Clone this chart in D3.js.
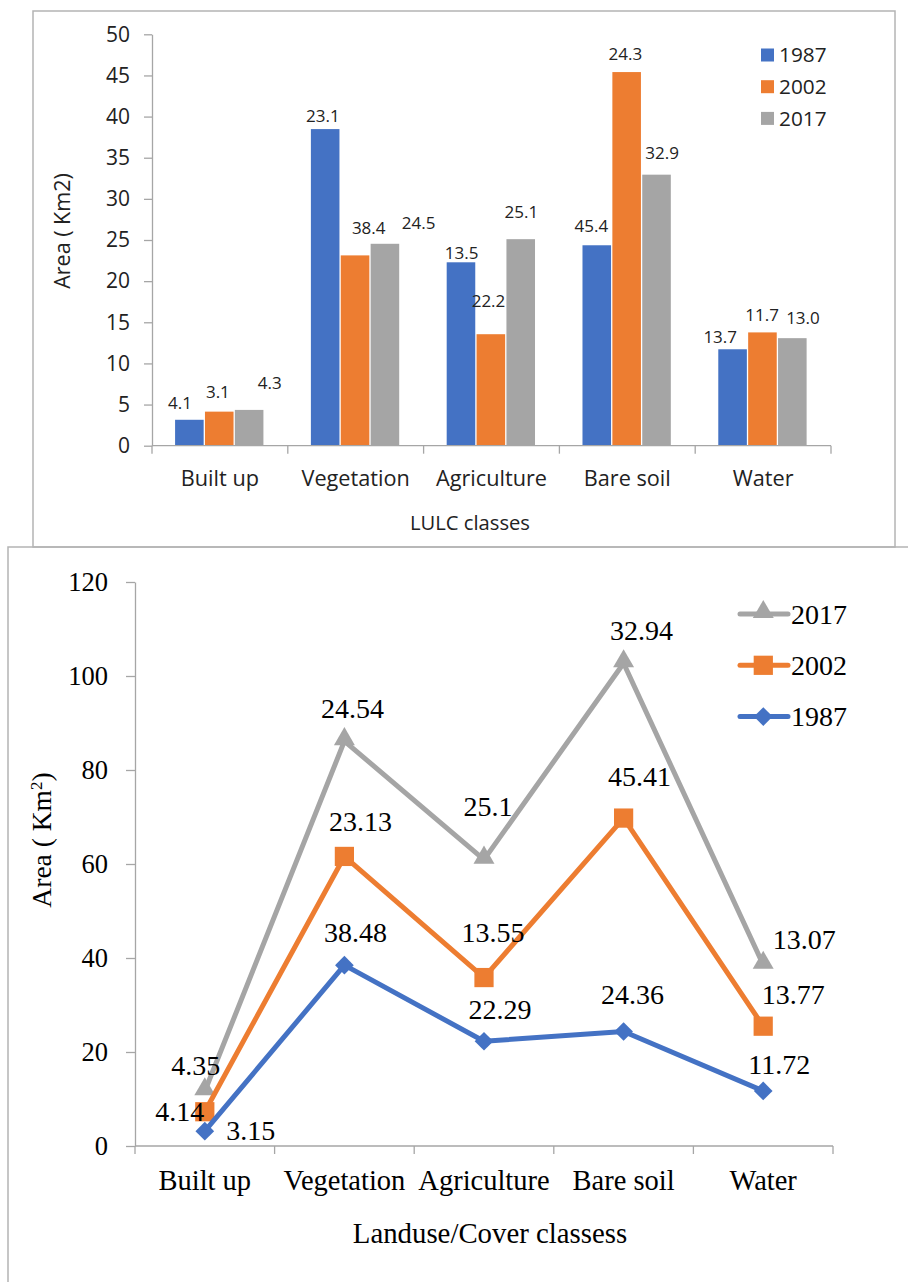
<!DOCTYPE html>
<html>
<head>
<meta charset="utf-8">
<script src="https://cdn.jsdelivr.net/npm/d3@7"></script>
<style>
  body { margin: 0; background: #fff; }
  svg { display: block; }
</style>
</head>
<body>
<script>
// land cover areas (km2) per class and year
const categories = ["Built up", "Vegetation", "Agriculture", "Bare soil", "Water"];
const years = ["1987", "2002", "2017"];
const area1987 = [3.15, 38.48, 22.29, 24.36, 11.72];
const area2002 = [4.14, 23.13, 13.55, 45.41, 13.77];
const area2017 = [4.35, 24.54, 25.1, 32.94, 13.07];

// data labels printed on the bar chart (as they appear in the figure)
const barText1987 = ["4.1", "23.1", "13.5", "45.4", "13.7"];
const barText2002 = ["3.1", "38.4", "22.2", "24.3", "11.7"];
const barText2017 = ["4.3", "24.5", "25.1", "32.9", "13.0"];

const barTicks = [0, 5, 10, 15, 20, 25, 30, 35, 40, 45, 50];
const lineTicks = [0, 20, 40, 60, 80, 100, 120];

const colors = { "1987": "#4472c4", "2002": "#ed7d31", "2017": "#a5a5a5" };

// label nudges (px) relative to the top of each bar / each marker
const barNudge = {
  "1987": [[-10, -17], [-3, -13], [0, -9], [-6, -19], [-13, -12]],
  "2002": [[-2, -20], [13, -28], [-3, -33], [-2, -18], [-1, -18]],
  "2017": [[20, -27], [33, -21], [0, -27], [5, -22], [10, -20]]
};
const lineNudge = {
  "1987": [[46, -1], [11, -33], [16, -32], [9, -37], [16, -26]],
  "2002": [[-25, 0], [16, -35], [9, -45], [16, -42], [30, -32]],
  "2017": [[-9, -26], [8, -33], [4, -53], [18, -33], [41, -25]]
};

const values = { "1987": area1987, "2002": area2002, "2017": area2017 };
const barText = { "1987": barText1987, "2002": barText2002, "2017": barText2017 };

const svg = d3.select("body").append("svg")
  .attr("width", 908)
  .attr("height", 1282);

const axisGray = "#a6a6a6";

// ---------- top: grouped bar chart ----------
const sans = "'Open Sans', sans-serif";
const textCol = "#222";
const barChart = svg.append("g");

barChart.append("rect")
  .attr("x", 33).attr("y", 11)
  .attr("width", 862).attr("height", 536)
  .attr("fill", "none").attr("stroke", "#b4b4b4").attr("stroke-width", 1.5);

const bx0 = d3.scaleBand().domain(categories).range([152, 831]);
const bx1 = d3.scaleBand().domain(years)
  .range([bx0.bandwidth() * 0.17, bx0.bandwidth() * 0.83]);
const by = d3.scaleLinear().domain([0, 50]).range([445.7, 34.3]);

const yAxisTop = barChart.append("g")
  .attr("transform", "translate(152,0)")
  .call(d3.axisLeft(by).tickValues(barTicks).tickSize(8).tickSizeOuter(0).tickPadding(14));
yAxisTop.selectAll("path, line").attr("stroke", axisGray).attr("stroke-width", 1.3);
yAxisTop.selectAll("text")
  .attr("font-family", sans).attr("font-size", 21).attr("fill", textCol);

// bars
years.forEach(yr => {
  barChart.append("g")
    .selectAll("rect")
    .data(categories)
    .enter().append("rect")
    .attr("x", c => bx0(c) + bx1(yr))
    .attr("y", (c, i) => by(values[yr][i]))
    .attr("width", bx1.bandwidth() - 1.3)
    .attr("height", (c, i) => by(0) - by(values[yr][i]))
    .attr("fill", colors[yr]);
});

// x axis line + boundary ticks
const xAxisTop = barChart.append("g");
xAxisTop.append("line")
  .attr("x1", 152).attr("x2", 831)
  .attr("y1", by(0)).attr("y2", by(0))
  .attr("stroke", axisGray).attr("stroke-width", 1.3);
xAxisTop.selectAll("line.tick")
  .data(categories.map(c => bx0(c)).concat([bx0.range()[1]]))
  .enter().append("line")
  .attr("x1", d => d).attr("x2", d => d)
  .attr("y1", by(0)).attr("y2", by(0) + 8)
  .attr("stroke", axisGray).attr("stroke-width", 1.3);
xAxisTop.selectAll("text")
  .data(categories)
  .enter().append("text")
  .attr("x", c => bx0(c) + bx0.bandwidth() / 2)
  .attr("y", 478)
  .attr("dy", "0.36em")
  .attr("text-anchor", "middle")
  .attr("font-family", sans).attr("font-size", 21.7).attr("fill", textCol)
  .text(c => c);

// bar data labels
years.forEach(yr => {
  barChart.append("g")
    .selectAll("text")
    .data(categories)
    .enter().append("text")
    .attr("x", (c, i) => bx0(c) + bx1(yr) + bx1.bandwidth() / 2 + barNudge[yr][i][0])
    .attr("y", (c, i) => by(values[yr][i]) + barNudge[yr][i][1])
    .attr("dy", "0.36em")
    .attr("text-anchor", "middle")
    .attr("font-family", sans).attr("font-size", 17).attr("fill", textCol)
    .text((c, i) => barText[yr][i]);
});

// axis titles
barChart.append("text")
  .attr("transform", "translate(62,231) rotate(-90)")
  .attr("dy", "0.36em")
  .attr("text-anchor", "middle")
  .attr("font-family", sans).attr("font-size", 21.5).attr("fill", textCol)
  .text("Area ( Km2)");
barChart.append("text")
  .attr("x", 470).attr("y", 523)
  .attr("dy", "0.36em")
  .attr("text-anchor", "middle")
  .attr("font-family", sans).attr("font-size", 20.2).attr("fill", textCol)
  .text("LULC classes");

// legend
const legTop = barChart.append("g");
years.forEach((yr, i) => {
  const ly = 55 + i * 31.7;
  legTop.append("rect")
    .attr("x", 761).attr("y", ly - 6.5)
    .attr("width", 13).attr("height", 13)
    .attr("fill", colors[yr]);
  legTop.append("text")
    .attr("x", 779).attr("y", ly)
    .attr("dy", "0.36em")
    .attr("font-family", sans).attr("font-size", 20.8).attr("fill", textCol)
    .text(yr);
});

// ---------- bottom: stacked line chart ----------
const serif = "'Liberation Serif', 'Times New Roman', serif";
const lineChart = svg.append("g");

lineChart.append("path")
  .attr("d", "M8,1282 V547 H908")
  .attr("fill", "none").attr("stroke", "#b4b4b4").attr("stroke-width", 1.5);

const rows = categories.map((c, i) => ({
  cat: c, "1987": area1987[i], "2002": area2002[i], "2017": area2017[i]
}));
const stacked = d3.stack().keys(years)(rows);

const lx = d3.scaleBand().domain(categories).range([135, 833]);
const ly = d3.scaleLinear().domain([0, 120]).range([1146, 582]);
const cx = c => lx(c) + lx.bandwidth() / 2;

const yAxisBot = lineChart.append("g")
  .attr("transform", "translate(135,0)")
  .call(d3.axisLeft(ly).tickValues(lineTicks).tickSize(9).tickSizeOuter(0).tickPadding(18));
yAxisBot.selectAll("path, line").attr("stroke", axisGray).attr("stroke-width", 1.3);
yAxisBot.selectAll("text")
  .attr("font-family", serif).attr("font-size", 26.5).attr("fill", "#000");

const xAxisBot = lineChart.append("g");
xAxisBot.append("line")
  .attr("x1", 135).attr("x2", 833)
  .attr("y1", ly(0)).attr("y2", ly(0))
  .attr("stroke", axisGray).attr("stroke-width", 1.3);
xAxisBot.selectAll("line.tick")
  .data(categories.map(c => lx(c)).concat([lx.range()[1]]))
  .enter().append("line")
  .attr("x1", d => d).attr("x2", d => d)
  .attr("y1", ly(0)).attr("y2", ly(0) + 8)
  .attr("stroke", axisGray).attr("stroke-width", 1.3);
xAxisBot.selectAll("text")
  .data(categories)
  .enter().append("text")
  .attr("x", c => cx(c))
  .attr("y", 1180)
  .attr("dy", "0.34em")
  .attr("text-anchor", "middle")
  .attr("font-family", serif).attr("font-size", 28.5).attr("fill", "#000")
  .text(c => c);

// marker shapes
const markerPath = {
  "1987": d3.symbol().type(d3.symbolSquare).size(175),
  "2002": d3.symbol().type(d3.symbolSquare).size(370),
  "2017": d3.symbol().type(d3.symbolTriangle).size(190)
};

const line = d3.line()
  .x(d => cx(d.data.cat))
  .y(d => ly(d[1]));

// draw 2017 first so 1987 sits on top
[...stacked].reverse().forEach(s => {
  const yr = s.key;
  const g = lineChart.append("g");
  g.append("path")
    .datum(s)
    .attr("d", line)
    .attr("fill", "none")
    .attr("stroke", colors[yr])
    .attr("stroke-width", 5)
    .attr("stroke-linejoin", "round");
  g.selectAll("path.mk")
    .data(s)
    .enter().append("path")
    .attr("class", "mk")
    .attr("d", markerPath[yr])
    .attr("transform", d => {
      const rot = yr === "1987" ? " rotate(45)" : "";
      const off = yr === "2017" ? -2 : 0;
      return `translate(${cx(d.data.cat)},${ly(d[1]) + off})${rot}`;
    })
    .attr("fill", colors[yr]);
});

// point labels
stacked.forEach(s => {
  const yr = s.key;
  lineChart.append("g")
    .selectAll("text")
    .data(s)
    .enter().append("text")
    .attr("x", (d, i) => cx(d.data.cat) + lineNudge[yr][i][0])
    .attr("y", (d, i) => ly(d[1]) + lineNudge[yr][i][1])
    .attr("dy", "0.34em")
    .attr("text-anchor", "middle")
    .attr("font-family", serif).attr("font-size", 28).attr("fill", "#000")
    .text(d => String(d.data[yr]));
});

// axis titles
const yTitle = lineChart.append("text")
  .attr("transform", "translate(42,840) rotate(-90)")
  .attr("dy", "0.34em")
  .attr("text-anchor", "middle")
  .attr("font-family", serif).attr("font-size", 27.5).attr("fill", "#000");
yTitle.append("tspan").text("Area ( Km");
yTitle.append("tspan").attr("baseline-shift", "super").attr("font-size", 17).text("2");
yTitle.append("tspan").text(")");

lineChart.append("text")
  .attr("x", 490).attr("y", 1233)
  .attr("dy", "0.34em")
  .attr("text-anchor", "middle")
  .attr("font-family", serif).attr("font-size", 28.8).attr("fill", "#000")
  .text("Landuse/Cover classess");

// legend (2017, 2002, 1987 top to bottom)
const legBot = lineChart.append("g");
["2017", "2002", "1987"].forEach((yr, i) => {
  const yy = 614 + i * 51.3;
  legBot.append("line")
    .attr("x1", 740).attr("x2", 788)
    .attr("y1", yy).attr("y2", yy)
    .attr("stroke", colors[yr]).attr("stroke-width", 5)
    .attr("stroke-linecap", "round");
  legBot.append("path")
    .attr("d", markerPath[yr])
    .attr("transform", `translate(763.3,${yy + (yr === "2017" ? -2 : 0)})${yr === "1987" ? " rotate(45)" : ""}`)
    .attr("fill", colors[yr]);
  legBot.append("text")
    .attr("x", 791).attr("y", yy)
    .attr("dy", "0.34em")
    .attr("font-family", serif).attr("font-size", 28).attr("fill", "#000")
    .text(yr);
});
</script>
</body>
</html>
